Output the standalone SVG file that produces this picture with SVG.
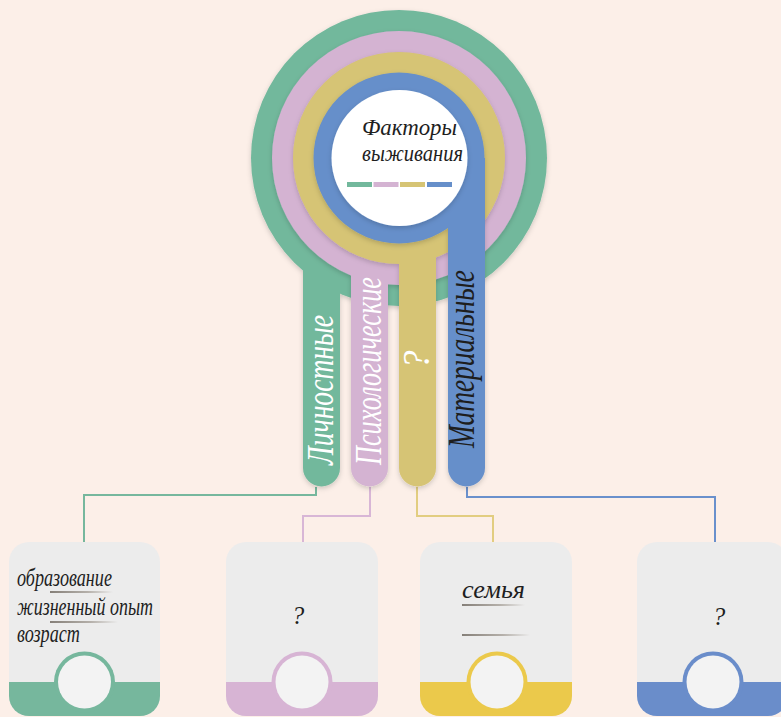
<svg xmlns="http://www.w3.org/2000/svg" width="781" height="717" viewBox="0 0 781 717">
<defs>
<style>
.hand{font-family:"Liberation Serif","DejaVu Serif",serif;font-style:italic;}
.bartxt{font-size:37px;}
.boxtxt{font-size:25px;fill:#1e1e1e;}
.conn{fill:none;stroke-width:2;}
.box{fill:#ececec;}
.inner{fill:#f3f3f3;}
</style>
<filter id="sh" x="-20%" y="-20%" width="140%" height="140%">
<feDropShadow dx="0" dy="2" stdDeviation="2.5" flood-color="#000" flood-opacity="0.18"/>
</filter>
<linearGradient id="ul" x1="0" y1="0" x2="1" y2="0">
<stop offset="0" stop-color="#857f78"/>
<stop offset="0.6" stop-color="#b5b0aa"/>
<stop offset="1" stop-color="#ececec"/>
</linearGradient>
<clipPath id="bandclip"><rect x="0" y="682" width="781" height="40"/></clipPath>
</defs>
<rect width="781" height="717" fill="#fcefe8"/>

<g id="connectors">
<path class="conn" stroke="#76b79d" d="M316,487 V495 H84 V542"/>
<path class="conn" stroke="#d8b6d6" d="M370,487 V516 H303 V542"/>
<path class="conn" stroke="#e2cd80" d="M417,487 V516 H493 V542"/>
<path class="conn" stroke="#6a90cc" d="M467,487 V497 H715 V542"/>
</g>

<g id="factor-personal" filter="url(#sh)">
<circle cx="399" cy="158" r="148" fill="#72b89c"/>
<path d="M303,250 V468 A18.5,18.5 0 0 0 340,468 V250 Z" fill="#72b89c"/>
</g>
<g id="factor-psych" filter="url(#sh)">
<circle cx="399" cy="158" r="127" fill="#d4b3d2"/>
<path d="M351,250 V468 A18.5,18.5 0 0 0 388,468 V250 Z" fill="#d4b3d2"/>
</g>
<g id="factor-unknown" filter="url(#sh)">
<circle cx="399" cy="158" r="106" fill="#d6c474"/>
<path d="M399,230 V468 A18.5,18.5 0 0 0 436,468 V230 Z" fill="#d6c474"/>
</g>
<g id="factor-material" filter="url(#sh)">
<circle cx="399" cy="158" r="85.5" fill="#668fca"/>
<path d="M448,158 V468 A18.5,18.5 0 0 0 485,468 V158 Z" fill="#668fca"/>
</g>

<g id="bar-labels" class="hand">
<text class="bartxt" fill="#ffffff" transform="translate(333,465) rotate(-90)" textLength="150" lengthAdjust="spacingAndGlyphs">Личностные</text>
<text class="bartxt" fill="#ffffff" transform="translate(381,465) rotate(-90)" textLength="188" lengthAdjust="spacingAndGlyphs">Психологические</text>
<text class="bartxt" fill="#ffffff" transform="translate(429,369) rotate(-90)" font-size="30">?</text>
<text class="bartxt" fill="#1e1e1e" transform="translate(474,448) rotate(-90)" textLength="178" lengthAdjust="spacingAndGlyphs">Материальные</text>
</g>

<g id="center" filter="url(#sh)">
<circle cx="399.5" cy="158" r="68" fill="#ffffff"/>
</g>
<g id="center-title">
<text class="hand" x="362" y="135" font-size="23" fill="#1e1e1e" textLength="95" lengthAdjust="spacingAndGlyphs">Факторы</text>
<text class="hand" x="362" y="161" font-size="23" fill="#1e1e1e" textLength="101" lengthAdjust="spacingAndGlyphs">выживания</text>
<rect x="347" y="182" width="25" height="5" fill="#72b89c"/>
<rect x="373.5" y="182" width="25" height="5" fill="#d4b3d2"/>
<rect x="400" y="182" width="25" height="5" fill="#d6c474"/>
<rect x="427" y="182" width="25" height="5" fill="#668fca"/>
</g>

<g id="box-personal">
<rect class="box" x="9" y="542" width="151" height="174" rx="20"/>
<rect x="9" y="542" width="151" height="174" rx="20" fill="#76b79d" clip-path="url(#bandclip)"/>
<circle cx="84.5" cy="682" r="30.5" fill="#76b79d"/>
<circle class="inner" cx="84.5" cy="682" r="26.5"/>
<text class="hand boxtxt" x="17" y="586" textLength="95" lengthAdjust="spacingAndGlyphs">образование</text>
<rect x="50" y="591" width="63" height="2" fill="url(#ul)"/>
<text class="hand boxtxt" x="17" y="615" textLength="136" lengthAdjust="spacingAndGlyphs">жизненный опыт</text>
<rect x="50" y="621" width="68" height="2" fill="url(#ul)"/>
<text class="hand boxtxt" x="17" y="642" textLength="63" lengthAdjust="spacingAndGlyphs">возраст</text>
</g>

<g id="box-psych">
<rect class="box" x="226" y="542" width="152" height="174" rx="20"/>
<rect x="226" y="542" width="152" height="174" rx="20" fill="#d7b4d4" clip-path="url(#bandclip)"/>
<circle cx="302" cy="682" r="30.5" fill="#d7b4d4"/>
<circle class="inner" cx="302" cy="682" r="26.5"/>
<text class="hand boxtxt" x="298" y="624" font-size="32" text-anchor="middle">?</text>
</g>

<g id="box-unknown">
<rect class="box" x="420" y="542" width="152" height="174" rx="20"/>
<rect x="420" y="542" width="152" height="174" rx="20" fill="#ebc94b" clip-path="url(#bandclip)"/>
<circle cx="497" cy="682" r="30.5" fill="#ebc94b"/>
<circle class="inner" cx="497" cy="682" r="26.5"/>
<text class="hand boxtxt" x="462" y="598" font-size="29" textLength="63" lengthAdjust="spacingAndGlyphs">семья</text>
<rect x="462" y="604" width="63" height="2" fill="url(#ul)"/>
<rect x="462" y="634" width="68" height="2" fill="url(#ul)"/>
</g>

<g id="box-material">
<rect class="box" x="637" y="542" width="151" height="174" rx="20"/>
<rect x="637" y="542" width="151" height="174" rx="20" fill="#6a8dca" clip-path="url(#bandclip)"/>
<circle cx="713" cy="682" r="30.5" fill="#6a8dca"/>
<circle class="inner" cx="713" cy="682" r="26.5"/>
<text class="hand boxtxt" x="719" y="625" font-size="32" text-anchor="middle">?</text>
</g>
</svg>
